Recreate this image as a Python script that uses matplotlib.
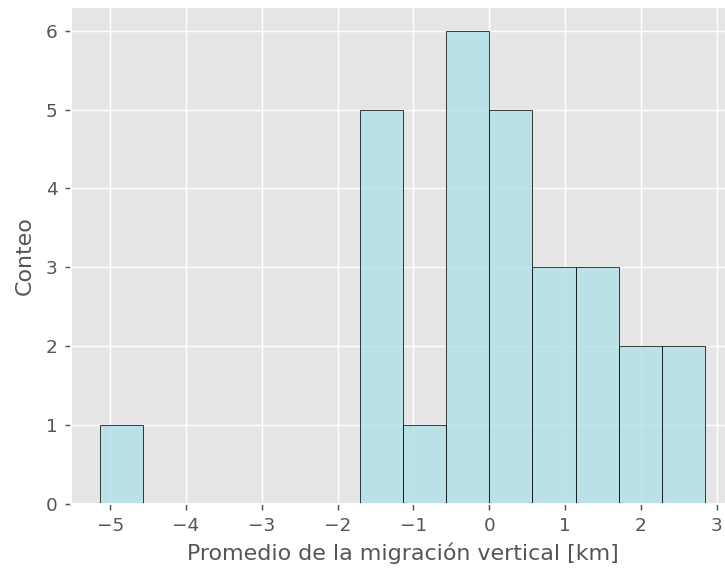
import matplotlib

matplotlib.use("Agg")

import matplotlib.pyplot as plt
import numpy as np

plt.style.use("ggplot")

# histogram: 14 bins of width ~0.57 km
bin_edges = [-5.13, -4.56, -3.99, -3.42, -2.85, -2.28, -1.71, -1.14,
             -0.57, 0.0, 0.57, 1.14, 1.71, 2.28, 2.85]
counts = [1, 0, 0, 0, 0, 0, 5, 1, 6, 5, 3, 3, 2, 2]

centers = 0.5 * (np.array(bin_edges[:-1]) + np.array(bin_edges[1:]))

DPI = 133
fig = plt.figure(figsize=(725 / DPI, 572 / DPI), dpi=DPI)
# the reference is cropped on the right, so the axes run past the figure edge
ax = fig.add_axes([70.7 / 725, 68 / 572, 665 / 725, 497 / 572])

ax.hist(centers, bins=bin_edges, weights=counts,
        color="powderblue", alpha=0.8, edgecolor="black")

ax.set_xlim(-5.52, 3.25)
ax.set_ylim(0, 6.3)
ax.set_xticks(range(-5, 4))
ax.set_xlabel("Promedio de la migración vertical [km]")
ax.set_ylabel("Conteo", labelpad=6)

fig.savefig("out.png", dpi=DPI)
